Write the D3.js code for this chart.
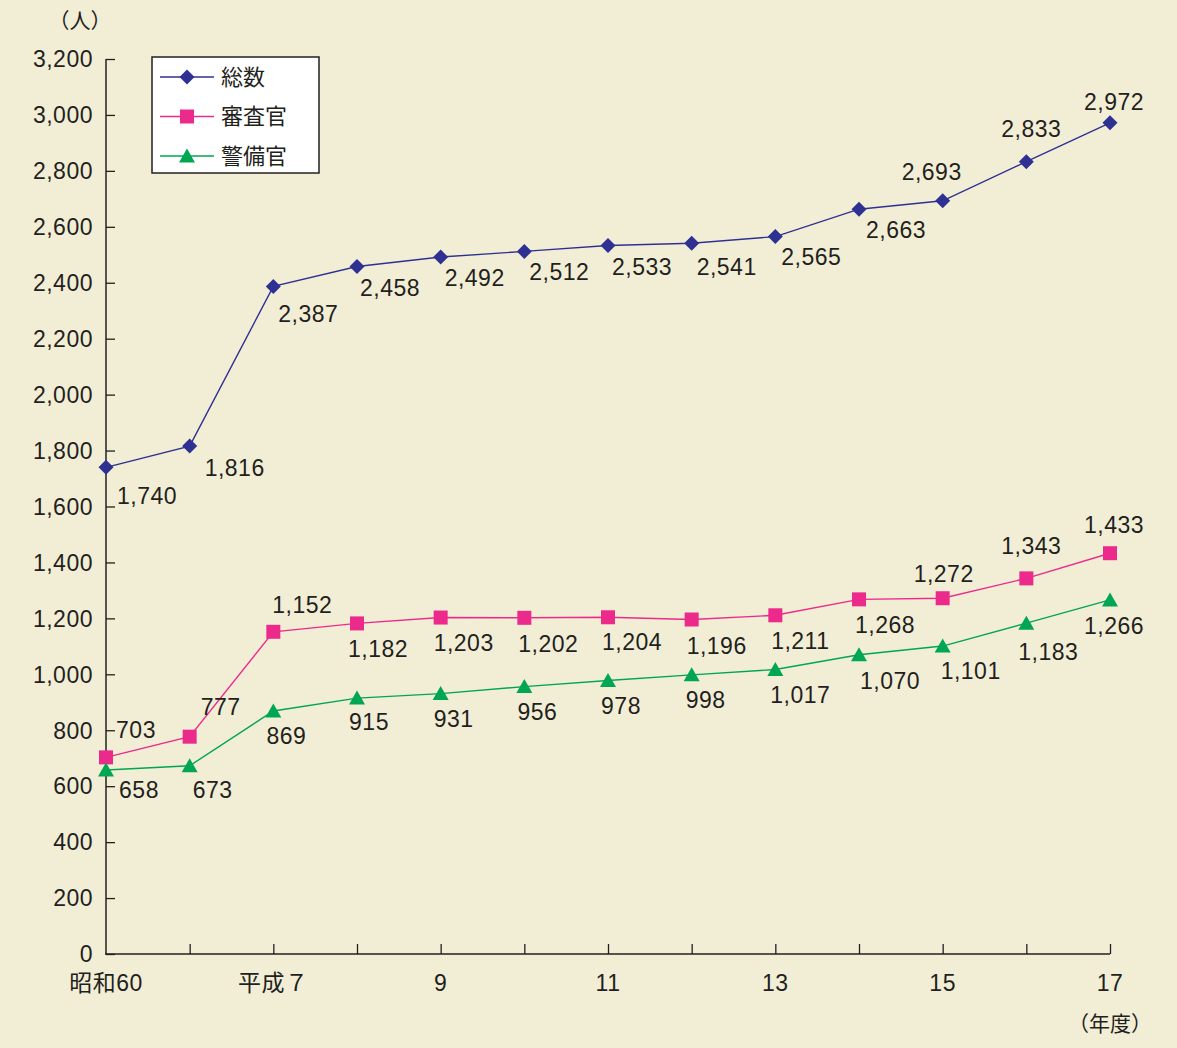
<!DOCTYPE html>
<html>
<head>
<meta charset="utf-8">
<script src="https://cdn.jsdelivr.net/npm/d3@7"></script>
<style>
  html, body { margin: 0; padding: 0; background: #f2eed6; }
  svg { display: block; }
  text { font-family: "Liberation Sans", "Noto Sans CJK JP", sans-serif; fill: #231f20; }
</style>
</head>
<body>
<svg id="chart" width="1177" height="1048"></svg>
<script>
// Fiscal years (x categories) and their tick labels; blank labels are unlabeled ticks
const tickLabels = ["昭和60", "", "平成７", "", "9", "", "11", "", "13", "", "15", "", "17"];

// Staff counts per year
const totalValues    = [1740, 1816, 2387, 2458, 2492, 2512, 2533, 2541, 2565, 2663, 2693, 2833, 2972];
const examinerValues = [703, 777, 1152, 1182, 1203, 1202, 1204, 1196, 1211, 1268, 1272, 1343, 1433];
const guardValues    = [658, 673, 869, 915, 931, 956, 978, 998, 1017, 1070, 1101, 1183, 1266];

const seriesNames = ["総数", "審査官", "警備官"];
const yTicks = d3.range(0, 3201, 200);

// Value label offsets from each point (label centre, px)
const totalLabelOffsets = [[41,28],[45,22],[35,27],[33,21],[34,21],[35,20],[34,21],[35,23],[36,20],[37,21],[-11,-29],[5,-33],[4,-21]];
const examinerLabelOffsets = [[30,-28],[31,-30],[29,-27],[21,25],[23,25],[24,26],[24,24],[25,26],[25,25],[26,25],[1,-25],[5,-33],[4,-28]];
const guardLabelOffsets = [[33,20],[23,24],[13,25],[12,24],[13,25],[13,25],[13,25],[14,25],[25,25],[31,26],[28,25],[22,29],[4,26]];

const svg = d3.select("#chart");
const x = d3.scalePoint().domain(d3.range(tickLabels.length)).range([106, 1110]);
const y = d3.scaleLinear().domain([0, 3200]).range([954, 59]);
const fmt = d3.format(",");

const series = [
  { name: seriesNames[0], values: totalValues, color: "#2e3192", shape: "diamond", offsets: totalLabelOffsets },
  { name: seriesNames[1], values: examinerValues, color: "#ec2a8c", shape: "square", offsets: examinerLabelOffsets },
  { name: seriesNames[2], values: guardValues, color: "#00a651", shape: "triangle", offsets: guardLabelOffsets }
];

// Axes
const yAxis = d3.axisRight(y).tickValues(yTicks).tickSize(9).tickFormat(() => "");
svg.append("g").attr("transform", "translate(106,0)").call(yAxis)
  .call(g => g.select(".domain").attr("stroke", "#231f20").attr("stroke-width", 1.5).attr("d", "M0,59V954"))
  .call(g => g.selectAll(".tick line").attr("stroke", "#231f20").attr("stroke-width", 1.3));

svg.append("g").selectAll("text").data(yTicks).join("text")
  .attr("x", 93).attr("y", d => y(d)).attr("dy", "0.36em")
  .attr("text-anchor", "end").style("font-size", "23px").style("letter-spacing", "0.5px")
  .text(d => fmt(d));

const xAxis = d3.axisTop(x).tickSize(10).tickFormat(() => "");
svg.append("g").attr("transform", "translate(0,954)").call(xAxis)
  .call(g => g.select(".domain").attr("stroke", "#231f20").attr("stroke-width", 1.5).attr("d", "M105,0H1110"))
  .call(g => g.selectAll(".tick line").attr("stroke", "#231f20").attr("stroke-width", 1.3))
  .call(g => g.selectAll(".tick").filter(d => d === 0).remove());

svg.append("g").selectAll("text").data(tickLabels).join("text")
  .attr("x", (d, i) => x(i)).attr("y", 983).attr("dy", "0.36em")
  .attr("text-anchor", "middle").style("font-size", "23px").style("letter-spacing", "0.5px")
  .text(d => d);

svg.append("text").attr("x", 80).attr("y", 20).attr("dy", "0.36em")
  .attr("text-anchor", "middle").style("font-size", "21px").text("（人）");
svg.append("text").attr("x", 1110).attr("y", 1023).attr("dy", "0.36em")
  .attr("text-anchor", "middle").style("font-size", "21px").text("（年度）");

// Marker shapes
function marker(sel, shape, color) {
  if (shape === "diamond") {
    sel.append("path").attr("d", "M0,-7.5L7.5,0L0,7.5L-7.5,0Z").attr("fill", color);
  } else if (shape === "square") {
    sel.append("rect").attr("x", -7).attr("y", -7).attr("width", 14).attr("height", 14).attr("fill", color);
  } else {
    sel.append("path").attr("d", "M0,-7.5L8,6.5L-8,6.5Z").attr("fill", color);
  }
}

const line = d3.line().x((d, i) => x(i)).y(d => y(d));

series.forEach(s => {
  const g = svg.append("g");
  g.append("path").datum(s.values).attr("d", line)
    .attr("fill", "none").attr("stroke", s.color).attr("stroke-width", 1.4);
  g.selectAll("g.pt").data(s.values).join("g").attr("class", "pt")
    .attr("transform", (d, i) => `translate(${x(i)},${y(d)})`)
    .each(function() { marker(d3.select(this), s.shape, s.color); });
  g.selectAll("text").data(s.values).join("text")
    .attr("x", (d, i) => x(i) + s.offsets[i][0])
    .attr("y", (d, i) => y(d) + s.offsets[i][1])
    .attr("dy", "0.36em").attr("text-anchor", "middle")
    .style("font-size", "23px").style("letter-spacing", "0.5px")
    .text(d => fmt(d));
});

// Legend
const legend = svg.append("g");
legend.append("rect").attr("x", 152).attr("y", 57).attr("width", 167).attr("height", 116)
  .attr("fill", "#ffffff").attr("stroke", "#231f20").attr("stroke-width", 1.5);
series.forEach((s, i) => {
  const ly = 77 + i * 39.5;
  const g = legend.append("g");
  g.append("line").attr("x1", 160).attr("x2", 214).attr("y1", ly).attr("y2", ly)
    .attr("stroke", s.color).attr("stroke-width", 1.4);
  marker(g.append("g").attr("transform", `translate(187,${ly})`), s.shape, s.color);
  g.append("text").attr("x", 221).attr("y", ly).attr("dy", "0.36em")
    .style("font-size", "22px").text(s.name);
});
</script>
</body>
</html>
